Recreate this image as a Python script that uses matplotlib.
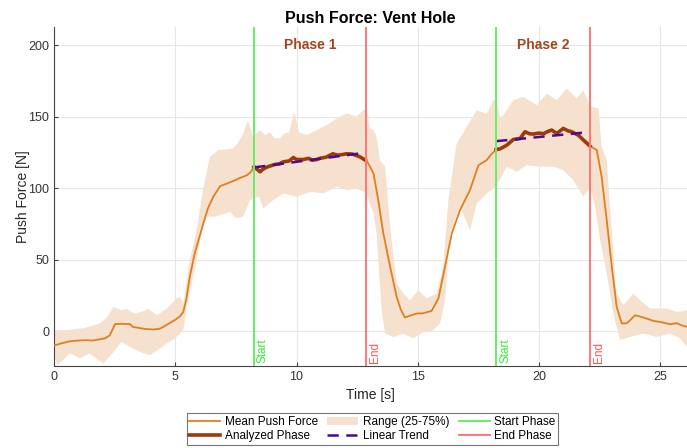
import numpy as np
import matplotlib.pyplot as plt

plt.rcParams['font.family'] = ['Liberation Sans', 'DejaVu Sans']

# mean push force
mean_t = [0.0, 0.3, 0.66, 1.0, 1.35, 1.6, 1.9, 2.1, 2.3, 2.52, 2.8, 3.13, 3.25, 3.41, 3.6, 3.82,
          4.1, 4.37, 4.55, 4.78, 5.0, 5.2, 5.33, 5.45, 5.6, 5.81, 6.0, 6.16, 6.35, 6.57, 6.85,
          7.1, 7.39, 7.65, 7.95, 8.1, 8.25, 8.35, 8.5, 8.6, 8.75, 8.9, 9.1, 9.3, 9.46, 9.7,
          9.87, 10.0, 10.28, 10.5, 10.65, 10.83, 11.0, 11.2, 11.5, 11.7, 11.9, 12.07, 12.3,
          12.6, 12.83, 12.9, 13.17, 13.37, 13.58, 13.86, 14.13, 14.3, 14.47, 14.7, 14.96, 15.2,
          15.57, 15.85, 16.12, 16.4, 16.74, 17.15, 17.3, 17.5, 17.84, 18.0, 18.23, 18.4, 18.67,
          18.94, 19.22, 19.42, 19.6, 19.77, 20.0, 20.18, 20.35, 20.52, 20.73, 21.0, 21.2, 21.35,
          21.5, 21.62, 21.83, 22.1, 22.38, 22.58, 22.79, 23.0, 23.2, 23.41, 23.62, 23.8, 23.96,
          24.3, 24.5, 24.71, 25.06, 25.25, 25.4, 25.68, 25.9, 26.1]
mean_v = [-10, -8.5, -7, -6.5, -6.3, -6.5, -5.6, -5, -2.8, 5, 5.2, 5, 3, 2.6, 2, 1.5,
          1.2, 1.8, 3.5, 5.8, 8, 10.5, 13.5, 22, 38, 55, 66, 75.5, 86, 94, 101.4,
          103, 105, 107, 109, 111, 115, 113.5, 111.4, 113, 114.5, 115.4, 116.5, 117, 118.4, 119,
          121.4, 120, 120, 120.8, 119.5, 120, 121, 121.5, 124, 123, 123.5, 124, 123.8,
          122, 119.6, 119, 110.5, 91.6, 68.3, 45, 24, 15, 9.6, 11, 12.4, 12.5,
          14.2, 22.9, 45, 68.3, 84.6, 98.6, 106, 116, 119.6, 123, 127, 127.5, 130,
          134, 134.7, 139.4, 138, 137.8, 138.5, 138, 139.5, 140.6, 138.2, 141.7, 140, 139.4,
          138, 137, 133.6, 129.4, 126.6, 108, 77.6, 45, 17, 5.4, 5.6, 8.5, 11.2,
          9.6, 8.5, 7.2, 6.3, 5.5, 4.9, 5.6, 4, 3]

# 75th percentile
q75_t = [0.0, 0.41, 1.21, 1.9, 2.2, 2.45, 2.78, 3.0, 3.3, 3.6, 3.89, 4.24, 4.65, 5.06, 5.2, 5.33,
         5.6, 5.88, 6.16, 6.43, 6.78, 7.1, 7.39, 7.6, 7.8, 8.0, 8.1, 8.2, 8.5, 8.7, 8.9, 9.1,
         9.3, 9.5, 9.7, 9.9, 10.1, 10.42, 10.83, 11.24, 11.66, 12.07, 12.48, 12.76, 12.9, 13.03,
         13.17, 13.3, 13.44, 13.65, 13.86, 14.13, 14.4, 14.68, 15.02, 15.37, 15.78, 16.05, 16.26,
         16.6, 17.02, 17.43, 17.84, 18.12, 18.25, 18.39, 18.53, 18.94, 19.35, 19.9, 20.32, 20.73,
         21.14, 21.55, 21.83, 22.1, 22.45, 22.58, 22.79, 23.0, 23.2, 23.48, 23.89, 24.16, 24.58,
         25.27, 25.68, 26.1]
q75_v = [0.7, 0.7, 2, 5.4, 10, 17, 14.7, 15.7, 12.4, 13.5, 15.7, 11.2, 15.7, 22.9, 24, 19.4,
         49.6, 70.6, 100, 122, 126.6, 127, 127.8, 132, 138, 147.5, 142, 136, 140.6, 137, 139, 135,
         134.7, 138, 139, 153.4, 139, 137, 140.6, 144, 148.7, 152.2, 150, 154.5, 154.5, 141.7,
         140.6, 136, 119.6, 115, 73, 33.4, 26.4, 21.7, 28.7, 22.9, 26.4, 45, 91.6,
         131, 142.9, 154.5, 152, 161.5, 161.5, 148.7, 151, 161.5, 163.8, 158, 166, 161.5,
         169.7, 162.7, 168.5, 156.9, 155.7, 128.9, 119.6, 68.3, 26.4, 18.2, 26.4, 21.7, 15.9,
         15.9, 13.5, 14.7]

# 25th percentile
q25_t = [0.0, 0.14, 0.66, 1.07, 1.46, 2.03, 2.45, 2.78, 3.13, 3.55, 3.96, 4.37, 4.65, 4.99, 5.33,
         5.47, 5.68, 5.88, 6.1, 6.3, 6.6, 7.0, 7.26, 7.5, 7.8, 8.08, 8.45, 8.63, 9.04, 9.46, 10.0,
         10.56, 11.1, 11.66, 12.07, 12.48, 12.89, 13.17, 13.3, 13.51, 13.65, 14.0, 14.4, 14.82,
         15.23, 15.64, 15.92, 16.12, 16.33, 16.74, 17.15, 17.43, 17.84, 18.19, 18.25, 18.67, 19.08,
         19.49, 20.04, 20.59, 21.0, 21.41, 21.83, 22.1, 22.31, 22.52, 22.79, 23.06, 23.34, 23.75,
         24.3, 24.85, 25.4, 25.81, 26.1]
q25_v = [-17, -23.8, -15.6, -19, -15.6, -22.6, -14.5, -7.5, -11, -14.5, -16.8, -12.1, -8.6, -5, 0.7,
         17, 33.4, 49.6, 70, 80, 80, 82, 83.4, 79, 80, 91.6, 94, 85.8, 91.6, 96.3, 94,
         97.4, 96.3, 101, 98.6, 99.8, 96.3, 82.3, 68.3, 14.7, -1.6, -4, -1.6, -5,
         -0.5, 0.7, 5.4, 21.7, 68.3, 87, 70.6, 89.3, 96.3, 101, 102, 115, 111.4,
         116, 115, 115, 112.6, 105.6, 94, 101, 87, 63.6, 40.3, 12.4, -6.3, -4,
         -1.6, -4, -1.6, -5, -11]

phase_start = [8.25, 18.23]
phase_end = [12.87, 22.1]
phase_names = ['Phase 1', 'Phase 2']

mean_t = np.array(mean_t)
mean_v = np.array(mean_v)

fig = plt.figure(figsize=(6.87, 4.48), dpi=100)
ax = fig.add_axes([54 / 687, 82 / 448, 633 / 687, 339 / 448])

# range band as one polygon: upper edge then lower edge backwards
band_x = list(q75_t) + list(q25_t[::-1])
band_y = list(q75_v) + list(q25_v[::-1])
ax.fill(band_x, band_y, color='#f5e1cd', lw=0, zorder=1)

ax.plot(mean_t, mean_v, color='#dd7f22', lw=1.3, zorder=3)

for i in range(len(phase_start)):
    s, e = phase_start[i], phase_end[i]
    m = (mean_t >= s) & (mean_t <= e)
    ax.plot(mean_t[m], mean_v[m], color='#9c3a0c', lw=2.6, zorder=4)
    p = np.polyfit(mean_t[m], mean_v[m], 1)
    ax.plot([s, e], np.polyval(p, [s, e]), color='#4b0a8c', lw=1.8,
            ls=(0, (4.5, 3)), zorder=5)
    ax.axvline(s, color='#66ee66', lw=1.4, zorder=6)
    ax.axvline(e, color='#ff7777', lw=1.4, zorder=6)
    ax.text(s + 0.12, -22.5, 'Start', rotation=90, color='#33ee33', fontsize=8.5,
            ha='left', va='bottom')
    ax.text(e + 0.12, -22.5, 'End', rotation=90, color='#ff5555', fontsize=8.5,
            ha='left', va='bottom')
    ax.text((s + e) / 2, 200, phase_names[i], color='#a5441a', fontsize=10,
            fontweight='bold', ha='center', va='center')

ax.set_xlim(0, 26.1)
ax.set_ylim(-24.3, 212.6)
ax.set_xticks([0, 5, 10, 15, 20, 25])
ax.set_yticks([0, 50, 100, 150, 200])
ax.grid(True, color='#e6e6e6', lw=0.8)
ax.set_axisbelow(True)
for side in ['top', 'right']:
    ax.spines[side].set_visible(False)
for side in ['left', 'bottom']:
    ax.spines[side].set_color('#444444')
ax.tick_params(direction='in', length=3, labelsize=9, colors='#444444', labelcolor='#333333')
ax.set_xlabel('Time [s]', fontsize=10, color='#262626')
ax.set_ylabel('Push Force [N]', fontsize=10, color='#262626', labelpad=-1)
ax.set_title('Push Force: Vent Hole', fontsize=11.5, fontweight='bold', pad=3)

# legend handles, column-major order
h = [
    plt.Line2D([], [], color='#dd7f22', lw=1.3),
    plt.Line2D([], [], color='#9c3a0c', lw=2.6),
    plt.Rectangle((0, 0), 1, 1, color='#f5e1cd', lw=0),
    plt.Line2D([], [], color='#4b0a8c', lw=1.8, ls=(0, (4.5, 3))),
    plt.Line2D([], [], color='#66ee66', lw=1.4),
    plt.Line2D([], [], color='#ff7777', lw=1.4),
]
labels = ['Mean Push Force', 'Analyzed Phase', 'Range (25-75%)', 'Linear Trend',
          'Start Phase', 'End Phase']
leg = fig.legend(h, labels, ncol=3, loc='center', bbox_to_anchor=(372.5 / 687, 1 - 429 / 448),
                 fontsize=8.5, frameon=True, fancybox=False, edgecolor='#555555',
                 handlelength=2.6, columnspacing=0.8, handletextpad=0.4,
                 borderpad=0.25, labelspacing=0.2)
leg.get_frame().set_linewidth(0.8)

fig.savefig('out.png', dpi=100)
